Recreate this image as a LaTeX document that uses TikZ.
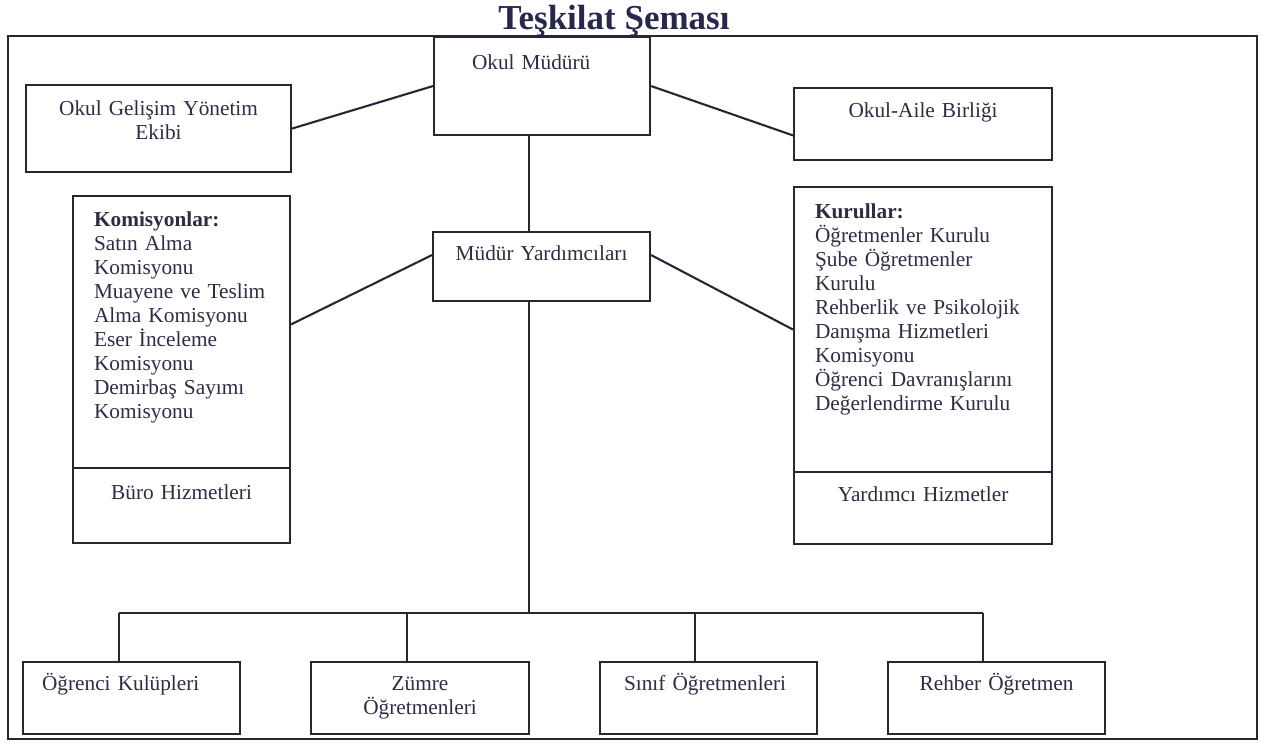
\documentclass[tikz,border=0pt]{standalone}
\usepackage{fontspec}
\setmainfont{Liberation Serif}
\usepackage{tikz}
\definecolor{inkline}{RGB}{38,38,54}
\definecolor{inktext}{RGB}{46,44,66}
\definecolor{inktitle}{RGB}{40,40,76}
\tikzstyle{outer_frame} = [draw=inkline, line width=2.1pt]
\tikzstyle{unit} = [rectangle, draw=inkline, line width=2.1pt, anchor=north west, inner xsep=0pt, inner ysep=0pt, align=center, text=inktext, font=\fontsize{21.3}{24}\selectfont]
\tikzstyle{unit_list} = [unit, align=left]
\tikzstyle{link} = [draw=inkline, line width=2.1pt]

\begin{document}
\begin{tikzpicture}[x=1pt, y=-1pt]
		\useasboundingbox (0,0) rectangle (1264,745);
		\node (title) [anchor=base, text=inktitle, font=\fontsize{35}{40}\selectfont\bfseries] at (614,29) {Teşkilat Şeması};
		\draw [outer_frame] (8,36) rectangle (1257,739);
		
		\node (mudur) [unit_list, inner xsep=38pt, text width=140pt, text height=32pt, text depth=66pt] at (433,36) {Okul Müdürü};
		\node (gelisim) [unit, text width=265pt, text height=30pt, text depth=57pt] at (25,84) {Okul Gelişim Yönetim\\Ekibi};
		\node (aile) [unit, text width=258pt, text height=29pt, text depth=43pt] at (793,87) {Okul-Aile Birliği};
		\node (mudur_yrd) [unit, text width=217pt, text height=28pt, text depth=41pt] at (432,231) {Müdür Yardımcıları};
		
		\node (komisyon) [unit_list, inner xsep=21pt, text width=175pt, text height=30pt, text depth=242pt] at (72,195) {\textbf{Komisyonlar:}\\Satın Alma\\Komisyonu\\Muayene ve Teslim\\Alma Komisyonu\\Eser İnceleme\\Komisyonu\\Demirbaş Sayımı\\Komisyonu};
		\node (buro) [unit, text width=217pt, text height=31pt, text depth=44pt] at (72,467) {Büro Hizmetleri};
		\node (kurullar) [unit_list, inner xsep=21pt, text width=216pt, text height=31pt, text depth=254pt] at (793,186) {\textbf{Kurullar:}\\Öğretmenler Kurulu\\Şube Öğretmenler\\Kurulu\\Rehberlik ve Psikolojik\\Danışma Hizmetleri\\Komisyonu\\Öğrenci Davranışlarını\\Değerlendirme Kurulu};
		\node (yrd_hizmet) [unit, text width=258pt, text height=29pt, text depth=43pt] at (793,471) {Yardımcı Hizmetler};
		
		\node (ogrenci) [unit_list, inner xsep=19pt, text width=179pt, text height=28pt, text depth=44pt] at (22,661) {Öğrenci Kulüpleri};
		\node (zumre) [unit, text width=218pt, text height=28pt, text depth=44pt] at (310,661) {Zümre\\Öğretmenleri};
		\node (sinif) [unit_list, inner xsep=24pt, text width=169pt, text height=28pt, text depth=44pt] at (599,661) {Sınıf Öğretmenleri};
		\node (rehber) [unit, text width=217pt, text height=28pt, text depth=44pt] at (887,661) {Rehber Öğretmen};
		
		\coordinate (trunk) at (529,613);
		\coordinate (drop1) at (119,613);
		\coordinate (drop2) at (407,613);
		\coordinate (drop3) at (695,613);
		\coordinate (drop4) at (983,613);
		
		\draw [link] (gelisim.east) -- (mudur.west);
		\draw [link] (mudur.east) -- (aile.185);
		\draw [link] (komisyon.4) -- (mudur_yrd.174);
		\draw [link] (mudur_yrd.6) -- (kurullar.west);
		\draw [link] (trunk |- mudur.south) -- (trunk |- mudur_yrd.north);
		\draw [link] (trunk |- mudur_yrd.south) -- (trunk);
		\draw [link] (drop1) -- (drop4);
		\foreach \d/\n in {drop1/ogrenci, drop2/zumre, drop3/sinif, drop4/rehber}
			\draw [link] (\d) -- (\d |- \n.north);
		\end{tikzpicture}
\end{document}
